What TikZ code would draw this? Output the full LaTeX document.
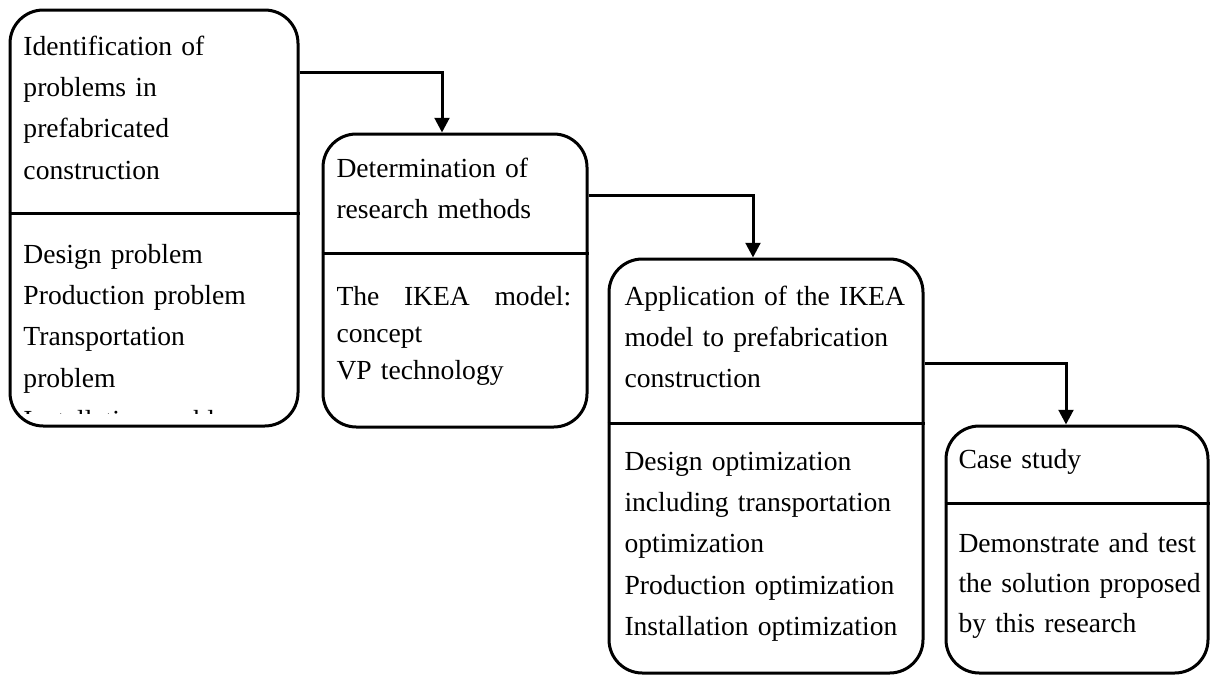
\documentclass[tikz,border=0pt]{standalone}
\usepackage{fontspec}
\setmainfont{Liberation Serif}
\usetikzlibrary{arrows.meta,fit}

\tikzset{every picture/.style={line width=2.25pt}}
\tikzset{
  stage/.style={draw, rounded corners=25pt, inner sep=0pt},
  boxtext/.style={anchor=base west, inner sep=0pt, align=left, text width=215pt,
    font=\fontsize{20.7}{31.1}\selectfont},
  flow/.style={-{Triangle[length=11pt,width=11pt]}},
}

\begin{document}
\begin{tikzpicture}[x=0.75pt,y=0.75pt,yscale=-1,xscale=1]
\useasboundingbox (0,0) rectangle (1210,675);

%Shape: Rounded Rectangle [id:b1]
\node [stage, fit={(10,10) (298,426)}] (b1) {};
\draw (b1.west |- 0,213) -- (b1.east |- 0,213) ;
%Shape: Rounded Rectangle [id:b2]
\node [stage, fit={(323,134) (587,427)}] (b2) {};
\draw (b2.west |- 0,253) -- (b2.east |- 0,253) ;
%Shape: Rounded Rectangle [id:b3]
\node [stage, fit={(609,259) (923,673)}] (b3) {};
\draw (b3.west |- 0,423) -- (b3.east |- 0,423) ;
%Shape: Rounded Rectangle [id:b4]
\node [stage, fit={(946,426) (1208,673)}] (b4) {};
\draw (b4.west |- 0,503) -- (b4.east |- 0,503) ;

%Connectors
\draw [flow] (b1.east |- 0,72) -| ([xshift=-9.75pt]b2.north) ;
\draw [flow] (b2.east |- 0,195) -| ([xshift=-9.75pt]b3.north) ;
\draw [flow] (b3.east |- 0,363) -| ([xshift=-8.25pt]b4.north) ;

% Text Node
\node [boxtext] (t1) at (22,55) {Identification of\\problems in\\prefabricated\\construction};
% Text Node
\node [boxtext] (t1b) at (22,263) {Design problem\\Production problem\\Transportation\\problem};
% Text Node (cut off by the box)
\begin{scope}
\clip (12,395) rectangle (296,413.5);
\node [boxtext] (t1c) at (22,429) {Installation problem};
\end{scope}
% Text Node
\node [boxtext] (t2) at (335,177) {Determination of\\research methods};
% Text Node
\node [boxtext, font=\fontsize{20.7}{28.1}\selectfont] (t2b) at (335,305) {\hbox to 176pt{The\hfill IKEA\hfill model:}\\concept\\VP technology};
% Text Node
\node [boxtext] (t3) at (623,305) {Application of the IKEA\\model to prefabrication\\construction};
% Text Node
\node [boxtext] (t3b) at (623,470) {Design optimization\\including transportation\\optimization\\Production optimization\\Installation optimization};
% Text Node
\node [boxtext] (t4) at (957,468) {Case study};
% Text Node
\node [boxtext, font=\fontsize{20.7}{30}\selectfont] (t4b) at (957,552) {Demonstrate and test\\the solution proposed\\by this research};

\end{tikzpicture}
\end{document}
